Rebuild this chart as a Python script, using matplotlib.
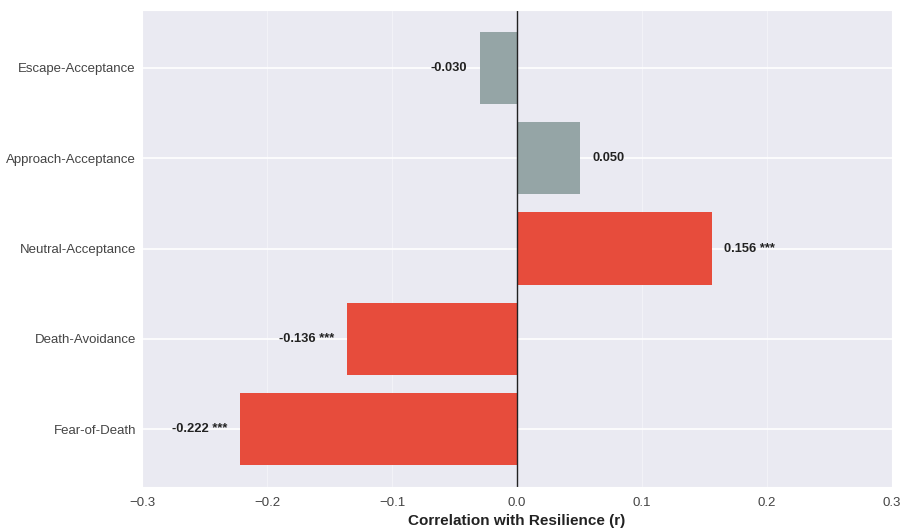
import matplotlib
matplotlib.use("Agg")
import matplotlib.pyplot as plt
import seaborn as sns

# death attitude subscales vs resilience
subscales = ["Fear-of-Death", "Death-Avoidance", "Neutral-Acceptance",
             "Approach-Acceptance", "Escape-Acceptance"]
r_values = [-0.222, -0.136, 0.156, 0.050, -0.030]
sig_marks = ["***", "***", "***", "", ""]

RED = "#E74C3C"
GREY = "#95A5A6"

sns.set_style("darkgrid")
plt.rcParams["font.family"] = ["Liberation Sans", "DejaVu Sans"]

fig = plt.figure(figsize=(9, 5.3), dpi=100)
ax = fig.add_axes([0.158, 0.081, 0.833, 0.9])

colors = [RED if s else GREY for s in sig_marks]
ax.barh(subscales, r_values, color=colors, height=0.8, linewidth=0)
ax.axvline(0, color="#222222", linewidth=1)

for i, (r, s) in enumerate(zip(r_values, sig_marks)):
    label = f"{r:.3f}" + (f" {s}" if s else "")
    if r >= 0:
        ax.text(r + 0.01, i, label, ha="left", va="center",
                fontsize=9.3, fontweight="bold", color="#222222")
    else:
        ax.text(r - 0.01, i, label, ha="right", va="center",
                fontsize=9.3, fontweight="bold", color="#222222")

ax.set_xlim(-0.3, 0.3)
ax.set_xticks([-0.3, -0.2, -0.1, 0.0, 0.1, 0.2, 0.3])
ax.grid(axis="x", color="white", alpha=0.4)
ax.grid(axis="y", color="white", linewidth=1.2)
ax.tick_params(labelsize=9.5, labelcolor="#444444")
ax.tick_params(axis="y", pad=1)
ax.set_xlabel("Correlation with Resilience (r)", fontsize=11,
              fontweight="bold", color="#222222")

fig.savefig("out.png", dpi=100)
